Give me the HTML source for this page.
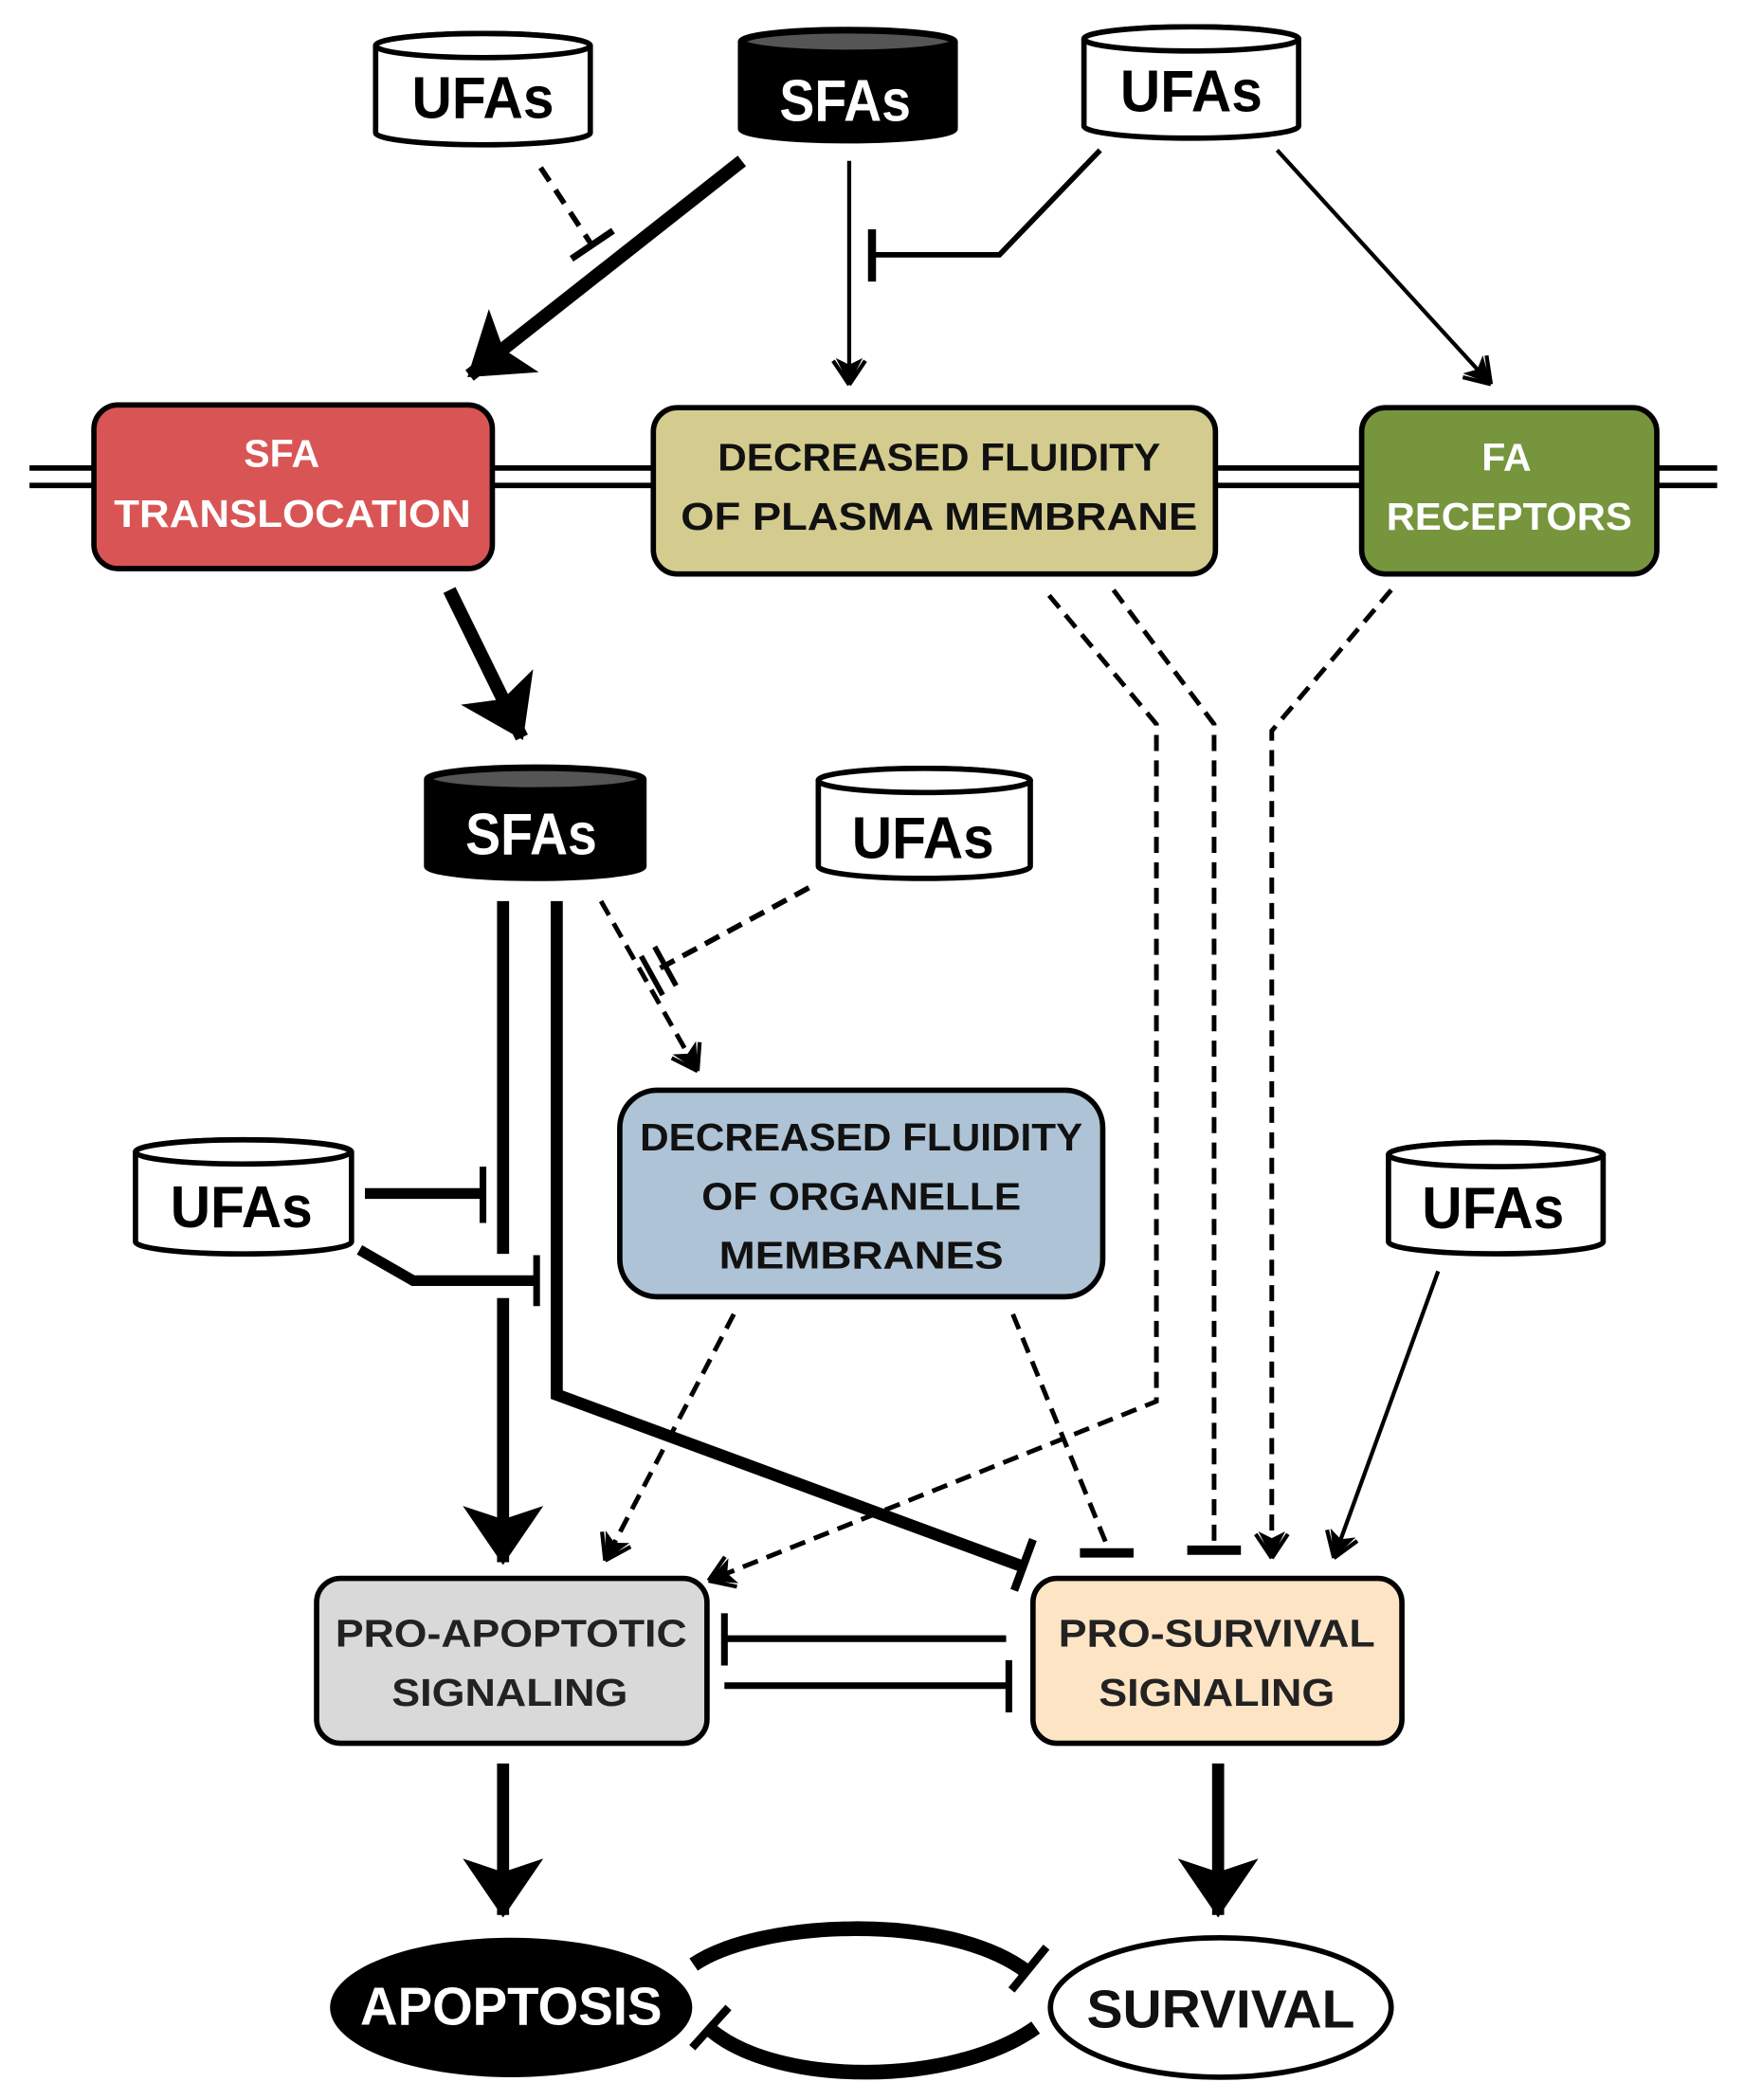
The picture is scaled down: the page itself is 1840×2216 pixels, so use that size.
<!DOCTYPE html>
<html><head><meta charset="utf-8"><style>
html,body{margin:0;padding:0;background:#fff;}
svg{display:block;}
text{font-family:"Liberation Sans Narrow","Liberation Sans",sans-serif;font-weight:bold;text-anchor:middle;}
</style></head><body>
<svg width="1840" height="2216" viewBox="0 0 1300 1566" preserveAspectRatio="none" xmlns="http://www.w3.org/2000/svg">
<defs>
<marker id="aK" markerUnits="userSpaceOnUse" markerWidth="80" markerHeight="80" refX="66" refY="40" orient="auto" viewBox="0 0 80 80">
<path d="M68,40 L24,10 L34,40 L24,70 Z" fill="#000"/>
</marker>
<marker id="aS" markerUnits="userSpaceOnUse" markerWidth="40" markerHeight="40" refX="36" refY="20" orient="auto" viewBox="0 0 40 40">
<path d="M38,20 L18,10 L23,20 L18,30 Z" fill="#000"/>
<path d="M38,20 L20,8 M38,20 L20,32" stroke="#000" stroke-width="3" fill="none"/>
</marker>
</defs>

<line x1="22" y1="349" x2="1280" y2="349" stroke="#000" stroke-width="4"/>
<line x1="22" y1="362" x2="1280" y2="362" stroke="#000" stroke-width="4"/>

<rect x="70" y="302" width="297" height="122" rx="18" fill="#d95555" stroke="#000" stroke-width="4"/>
<text x="210" y="348" font-size="29" fill="#fff">SFA</text>
<text x="218" y="393" font-size="29" fill="#fff" textLength="266" lengthAdjust="spacingAndGlyphs">TRANSLOCATION</text>
<rect x="487" y="304" width="419" height="124" rx="18" fill="#d4cb8e" stroke="#000" stroke-width="4"/>
<text x="700" y="351" font-size="29" fill="#111" textLength="330" lengthAdjust="spacingAndGlyphs">DECREASED FLUIDITY</text>
<text x="700" y="395" font-size="29" fill="#111" textLength="385" lengthAdjust="spacingAndGlyphs">OF PLASMA MEMBRANE</text>
<rect x="1015" y="304" width="220" height="124" rx="18" fill="#76953c" stroke="#000" stroke-width="4"/>
<text x="1123" y="351" font-size="29" fill="#fff">FA</text>
<text x="1125" y="395" font-size="29" fill="#fff" textLength="183" lengthAdjust="spacingAndGlyphs">RECEPTORS</text>
<rect x="462" y="813" width="360" height="154" rx="28" fill="#aec3d5" stroke="#000" stroke-width="4"/>
<text x="642" y="858" font-size="29" fill="#111" textLength="330" lengthAdjust="spacingAndGlyphs">DECREASED FLUIDITY</text>
<text x="642" y="902" font-size="29" fill="#111" textLength="238" lengthAdjust="spacingAndGlyphs">OF ORGANELLE</text>
<text x="642" y="946" font-size="29" fill="#111" textLength="212" lengthAdjust="spacingAndGlyphs">MEMBRANES</text>
<rect x="236" y="1177" width="291" height="123" rx="18" fill="#d9d9d9" stroke="#000" stroke-width="4"/>
<text x="381" y="1228" font-size="29" fill="#222" textLength="262" lengthAdjust="spacingAndGlyphs">PRO-APOPTOTIC</text>
<text x="380" y="1272" font-size="29" fill="#222" textLength="176" lengthAdjust="spacingAndGlyphs">SIGNALING</text>
<rect x="770" y="1177" width="275" height="123" rx="18" fill="#fde4c4" stroke="#000" stroke-width="4"/>
<text x="907" y="1228" font-size="29" fill="#222" textLength="236" lengthAdjust="spacingAndGlyphs">PRO-SURVIVAL</text>
<text x="907" y="1272" font-size="29" fill="#222" textLength="176" lengthAdjust="spacingAndGlyphs">SIGNALING</text>

<ellipse cx="381" cy="1497" rx="135" ry="52" fill="#000"/>
<text x="381" y="1510" font-size="40" fill="#fff" textLength="225" lengthAdjust="spacingAndGlyphs">APOPTOSIS</text>
<ellipse cx="910" cy="1497" rx="127" ry="52" fill="#fff" stroke="#000" stroke-width="4"/>
<text x="910" y="1512" font-size="40" fill="#111" textLength="200" lengthAdjust="spacingAndGlyphs">SURVIVAL</text>

<g stroke="#000" stroke-width="4">
<path d="M280,34 A80,9 0 0 1 440,34 V99 A80,9 0 0 1 280,99 Z" fill="#fff"/><ellipse cx="360" cy="34" rx="80" ry="9" fill="#fff"/>
<path d="M552,31 A80,9 0 0 1 712,31 V96 A80,9 0 0 1 552,96 Z" fill="#000"/><ellipse cx="632" cy="31" rx="78" ry="8" fill="#555"/>
<path d="M808,29 A80,9 0 0 1 968,29 V94 A80,9 0 0 1 808,94 Z" fill="#fff"/><ellipse cx="888" cy="29" rx="80" ry="9" fill="#fff"/>
<path d="M318,581 A81,9 0 0 1 480,581 V646 A81,9 0 0 1 318,646 Z" fill="#000"/><ellipse cx="399" cy="581" rx="79" ry="8" fill="#555"/>
<path d="M610,582 A79,9 0 0 1 768,582 V646 A79,9 0 0 1 610,646 Z" fill="#fff"/><ellipse cx="689" cy="582" rx="79" ry="9" fill="#fff"/>
<path d="M101,859 A80,9 0 0 1 262,859 V926 A80,9 0 0 1 101,926 Z" fill="#fff"/><ellipse cx="181" cy="859" rx="80" ry="9" fill="#fff"/>
<path d="M1035,861 A80,9 0 0 1 1195,861 V926 A80,9 0 0 1 1035,926 Z" fill="#fff"/><ellipse cx="1115" cy="861" rx="80" ry="9" fill="#fff"/>
</g>
<g font-size="44">
<text x="360" y="88" fill="#000" textLength="106" lengthAdjust="spacingAndGlyphs">UFAs</text>
<text x="630" y="90" fill="#fff" textLength="98" lengthAdjust="spacingAndGlyphs">SFAs</text>
<text x="888" y="83" fill="#000" textLength="106" lengthAdjust="spacingAndGlyphs">UFAs</text>
<text x="396" y="637" fill="#fff" textLength="98" lengthAdjust="spacingAndGlyphs">SFAs</text>
<text x="688" y="640" fill="#000" textLength="106" lengthAdjust="spacingAndGlyphs">UFAs</text>
<text x="180" y="915" fill="#000" textLength="106" lengthAdjust="spacingAndGlyphs">UFAs</text>
<text x="1113" y="916" fill="#000" textLength="106" lengthAdjust="spacingAndGlyphs">UFAs</text>
</g>

<g stroke="#000" fill="none">
<line x1="403" y1="125" x2="440" y2="181" stroke-width="4" stroke-dasharray="12,8"/>
<line x1="426" y1="193" x2="457" y2="172" stroke-width="5"/>
<line x1="553" y1="120" x2="350" y2="280" stroke-width="10" marker-end="url(#aK)"/>
<line x1="633" y1="120" x2="633" y2="285" stroke-width="3" marker-end="url(#aS)"/>
<polyline points="820,112 745,190 652,190" stroke-width="4"/>
<line x1="650" y1="171" x2="650" y2="210" stroke-width="6"/>
<line x1="952" y1="112" x2="1110" y2="285" stroke-width="3" marker-end="url(#aS)"/>
<line x1="335" y1="440" x2="389" y2="550" stroke-width="10" marker-end="url(#aK)"/>
<polyline points="782,444 862,540 862,1045 530,1178" stroke-width="3.5" stroke-dasharray="12,7" marker-end="url(#aS)"/>
<polyline points="830,440 905,540 905,1150" stroke-width="3.5" stroke-dasharray="12,7"/>
<line x1="885" y1="1156" x2="925" y2="1156" stroke-width="7"/>
<polyline points="1037,440 948,545 948,1160" stroke-width="3.5" stroke-dasharray="12,7" marker-end="url(#aS)"/>
<line x1="375" y1="672" x2="375" y2="935" stroke-width="9"/>
<line x1="375" y1="968" x2="375" y2="1165" stroke-width="9" marker-end="url(#aK)"/>
<polyline points="415,672 415,1040 762,1168" stroke-width="9"/>
<line x1="756" y1="1186" x2="770" y2="1148" stroke-width="6"/>
<line x1="448" y1="672" x2="519" y2="797" stroke-width="3.5" stroke-dasharray="12,7" marker-end="url(#aS)"/>
<polyline points="603,662 492,722" stroke-width="4" stroke-dasharray="12,7"/>
<line x1="478" y1="713" x2="494" y2="742" stroke-width="4"/>
<line x1="488" y1="706" x2="504" y2="735" stroke-width="4"/>
<line x1="272" y1="890" x2="360" y2="890" stroke-width="8"/>
<line x1="360" y1="870" x2="360" y2="912" stroke-width="5"/>
<polyline points="268,932 308,955 400,955" stroke-width="8"/>
<line x1="400" y1="936" x2="400" y2="974" stroke-width="5"/>
<line x1="547" y1="980" x2="452" y2="1162" stroke-width="3.5" stroke-dasharray="12,7" marker-end="url(#aS)"/>
<line x1="755" y1="980" x2="825" y2="1152" stroke-width="3.5" stroke-dasharray="12,7"/>
<line x1="805" y1="1158" x2="845" y2="1158" stroke-width="7"/>
<line x1="1072" y1="948" x2="995" y2="1160" stroke-width="3" marker-end="url(#aS)"/>
<line x1="750" y1="1222" x2="542" y2="1222" stroke-width="5"/>
<line x1="540" y1="1203" x2="540" y2="1242" stroke-width="5"/>
<line x1="540" y1="1257" x2="752" y2="1257" stroke-width="5"/>
<line x1="752" y1="1238" x2="752" y2="1277" stroke-width="5"/>
<line x1="375" y1="1315" x2="375" y2="1428" stroke-width="9" marker-end="url(#aK)"/>
<line x1="908" y1="1315" x2="908" y2="1428" stroke-width="9" marker-end="url(#aK)"/>
<path d="M517,1465 C565,1432 705,1425 765,1470" stroke-width="11"/>
<line x1="754" y1="1484" x2="780" y2="1452" stroke-width="6"/>
<path d="M530,1514 C580,1556 710,1556 772,1512" stroke-width="11"/>
<line x1="516" y1="1527" x2="543" y2="1497" stroke-width="6"/>
</g>
</svg>
</body></html>
